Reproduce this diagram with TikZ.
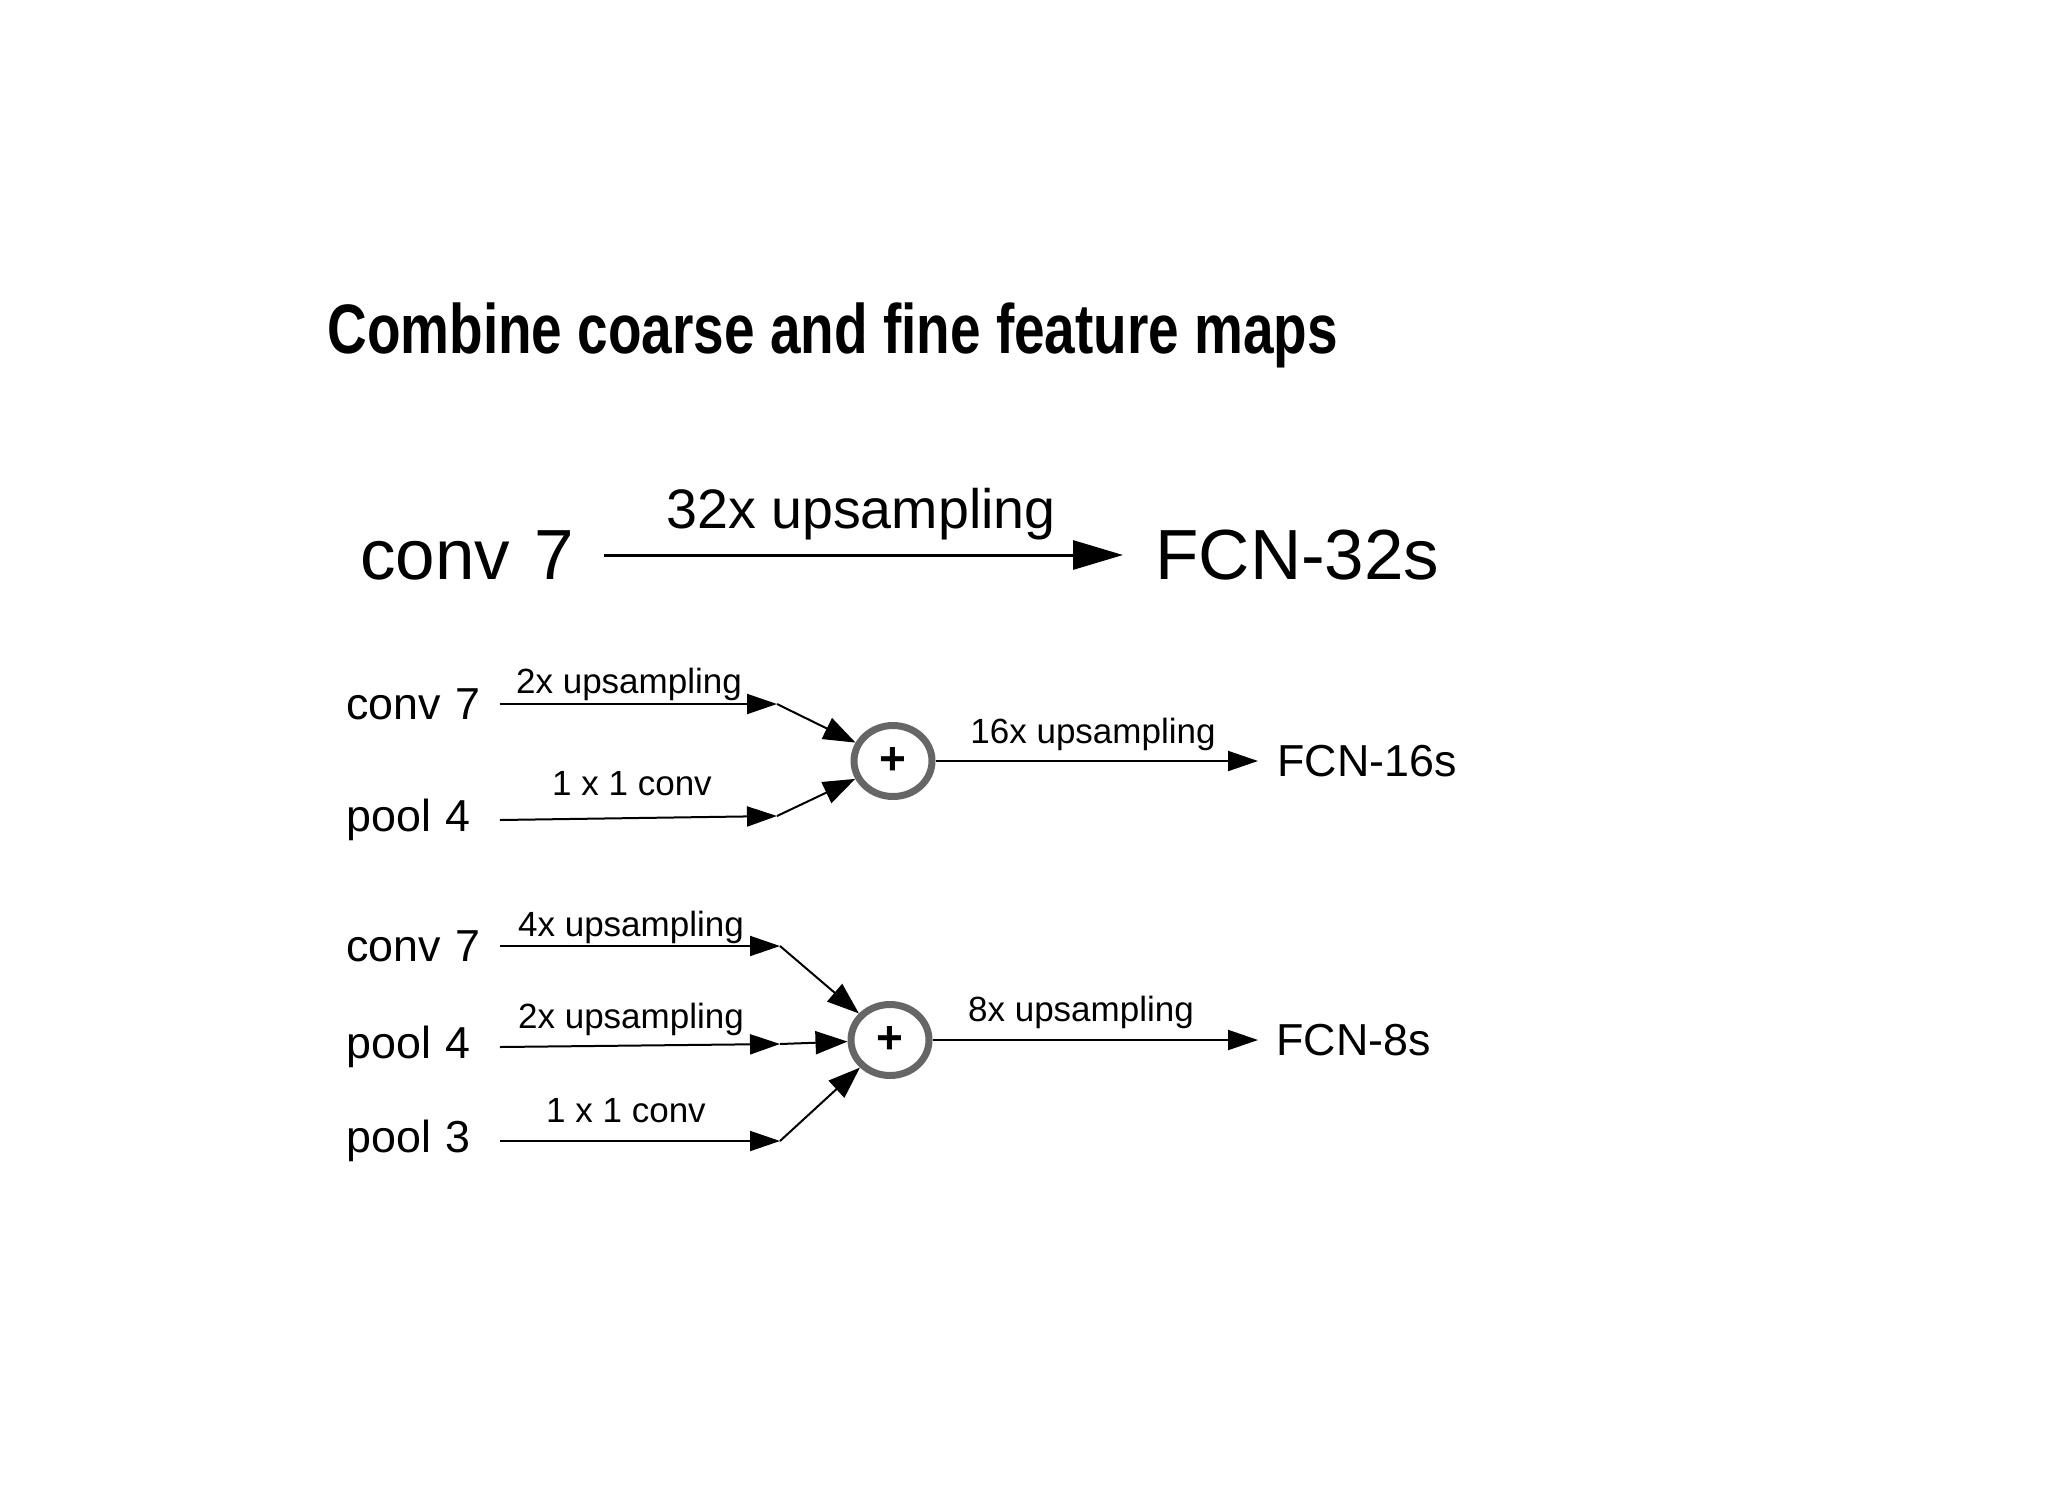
\documentclass[tikz,border=0pt]{standalone}
\usepackage{amsmath,amssymb,graphicx,xcolor,tikz}
\usepackage{fontspec}
\setmainfont{Liberation Sans}
\usetikzlibrary{arrows.meta,shapes.geometric}
\definecolor{ringgray}{RGB}{102,102,102}

\begin{document}
\begin{tikzpicture}[x=0.5pt,y=0.5pt,yscale=-1,xscale=1,
  titletxt/.style={font=\fontsize{35}{40}\selectfont\bfseries},
  bigtxt/.style={font=\fontsize{35.5}{40}\selectfont},
  midtxt/.style={font=\fontsize{22.4}{26}\selectfont},
  smalltxt/.style={font=\fontsize{17.5}{20}\selectfont},
  uptxt/.style={font=\fontsize{27.8}{32}\selectfont},
  inlbl/.style={inner sep=0pt,anchor=west,align=left},
  outlbl/.style={inner ysep=0pt,anchor=west},
  plusnode/.style={ellipse,draw=ringgray,line width=3.5pt,minimum width=39pt,minimum height=35.5pt,inner sep=0pt,font=\fontsize{23}{26}\selectfont\bfseries},
  bigarr/.style={line width=1.5pt,-{Triangle[length=25pt,width=14.5pt]}},
  arr/.style={line width=1pt,-{Triangle[length=15pt,width=10pt]}},
  joinarr/.style={line width=1pt,-{Triangle[length=16pt,width=11.5pt]}}
]

\useasboundingbox (0,0) rectangle (2048,1493);

\draw (327,353) node [anchor=base west,inner sep=0pt,titletxt] (title) {\scalebox{0.785}[1]{Combine coarse and fine feature maps}};

\draw (360,555) node [inlbl,bigtxt,text width=121.5pt] (bigC7) {conv 7};

\draw (1123,555) node [outlbl,bigtxt,inner xsep=16pt] (fcn32) {FCN-32s};

\draw [bigarr] (bigC7.east) -- (fcn32.west);

\draw (861,528) node [anchor=base,uptxt] (lbl32) {32x upsampling};

\draw (346,704) node [inlbl,midtxt,text width=76.5pt] (c7a) {conv 7};

\draw (346,820) node [inlbl,midtxt,text width=76.5pt] (p4a) {pool 4};

\coordinate (m1a) at (777,704);

\coordinate (m1b) at (777,816);

\draw (893,761) node [plusnode] (plusA) {+};

\draw (1258,761) node [outlbl,midtxt,inner xsep=9.5pt] (fcn16) {FCN-16s};

\draw [arr] (c7a.east) -- (m1a);

\draw [joinarr] (m1a) -- (plusA);

\draw [arr] (p4a.east) -- (m1b);

\draw [joinarr] (m1b) -- (plusA);

\draw [arr] (plusA) -- (fcn16.west);

\draw (629,693) node [anchor=base,smalltxt] (lbl2a) {2x upsampling};

\draw (632,795) node [anchor=base,smalltxt] (lbl1a) {1 x 1 conv};

\draw (1093,743) node [anchor=base,smalltxt] (lbl16) {16x upsampling};

\draw (346,946) node [inlbl,midtxt,text width=76.5pt] (c7b) {conv 7};

\draw (346,1047) node [inlbl,midtxt,text width=76.5pt] (p4b) {pool 4};

\draw (346,1141) node [inlbl,midtxt,text width=76.5pt] (p3b) {pool 3};

\coordinate (m2a) at (780,946);

\coordinate (m2b) at (780,1044);

\coordinate (m2c) at (780,1141);

\draw (890,1040) node [plusnode] (plusB) {+};

\draw (1258,1040) node [outlbl,midtxt,inner xsep=9pt] (fcn8) {FCN-8s};

\draw [arr] (c7b.east) -- (m2a);

\draw [joinarr] (m2a) -- (plusB);

\draw [arr] (p4b.east) -- (m2b);

\draw [joinarr] (m2b) -- (plusB);

\draw [arr] (p3b.east) -- (m2c);

\draw [joinarr] (m2c) -- (plusB);

\draw [arr] (plusB) -- (fcn8.west);

\draw (631,936) node [anchor=base,smalltxt] (lbl4b) {4x upsampling};

\draw (631,1028) node [anchor=base,smalltxt] (lbl2b) {2x upsampling};

\draw (626,1122) node [anchor=base,smalltxt] (lbl1b) {1 x 1 conv};

\draw (1081,1021) node [anchor=base,smalltxt] (lbl8) {8x upsampling};

\end{tikzpicture}
\end{document}
